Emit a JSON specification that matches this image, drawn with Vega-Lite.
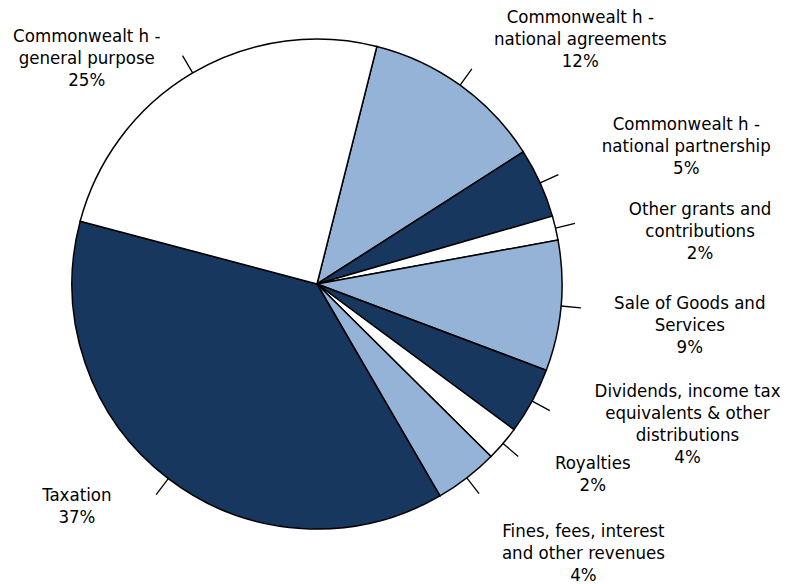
{
  "$schema": "https://vega.github.io/schema/vega-lite/v6.json",
  "width": 634,
  "height": 568,
  "autosize": {"type": "none"},
  "padding": {"left": 0, "top": 0, "right": 164, "bottom": 16},
  "background": "white",
  "config": {"view": {"stroke": null}, "text": {"font": "DejaVu Sans Condensed, DejaVu Sans", "fontSize": 18.5, "lineHeight": 22, "lineBreak": "\n", "align": "center", "baseline": "middle", "color": "black"}},
  "data": {
    "values": [
      {"idx": 1, "source": "Commonwealth - national agreements", "value": 12.0, "label": "Commonwealt h  -\nnational  agreements\n12%"},
      {"idx": 2, "source": "Commonwealth - national partnership", "value": 4.6, "label": "Commonwealt h  -\nnational partnership\n5%"},
      {"idx": 3, "source": "Other grants and contributions", "value": 1.6, "label": "Other grants and\ncontributions\n2%"},
      {"idx": 4, "source": "Sale of Goods and Services", "value": 8.6, "label": "Sale of Goods and\nServices\n9%"},
      {"idx": 5, "source": "Dividends, income tax equivalents & other distributions", "value": 4.4, "label": "Dividends, income tax\nequivalents & other\ndistributions\n4%"},
      {"idx": 6, "source": "Royalties", "value": 2.3, "label": "Royalties\n2%"},
      {"idx": 7, "source": "Fines, fees, interest and other revenues", "value": 4.2, "label": "Fines, fees, interest\nand other revenues\n4%"},
      {"idx": 8, "source": "Taxation", "value": 37.5, "label": "Taxation\n37%"},
      {"idx": 9, "source": "Commonwealth - general purpose", "value": 24.8, "label": "Commonwealt h  -\ngeneral  purpose\n25%"}
    ]
  },
  "encoding": {
    "theta": {"field": "value", "type": "quantitative", "stack": true, "scale": {"range": [0.247, 6.530]}},
    "order": {"field": "idx", "type": "quantitative"}
  },
  "layer": [
    {
      "mark": {"type": "arc", "radius": 245, "stroke": "black", "strokeWidth": 1.5},
      "encoding": {
        "color": {
          "field": "source", "type": "nominal", "legend": null,
          "scale": {
            "domain": ["Commonwealth - national agreements", "Commonwealth - national partnership", "Other grants and contributions", "Sale of Goods and Services", "Dividends, income tax equivalents & other distributions", "Royalties", "Fines, fees, interest and other revenues", "Taxation", "Commonwealth - general purpose"],
            "range": ["#95B3D7", "#17375E", "#FFFFFF", "#95B3D7", "#17375E", "#FFFFFF", "#95B3D7", "#17375E", "#FFFFFF"]
          }
        }
      }
    },
    {
      "mark": {"type": "arc", "radius": 265, "radius2": 245, "padAngle": 3.14, "filled": false, "color": "black", "strokeWidth": 1.3},
      "encoding": {}
    },
    {
      "mark": {"type": "text", "radius": 300, "dx": 88, "dy": -24},
      "encoding": {"text": {"condition": {"test": "datum.idx === 1", "field": "label"}, "value": ""}}
    },
    {
      "mark": {"type": "text", "radius": 300, "dx": 96, "dy": -36},
      "encoding": {"text": {"condition": {"test": "datum.idx === 2", "field": "label"}, "value": ""}}
    },
    {
      "mark": {"type": "text", "radius": 300, "dx": 91, "dy": -6},
      "encoding": {"text": {"condition": {"test": "datum.idx === 3", "field": "label"}, "value": ""}}
    },
    {
      "mark": {"type": "text", "radius": 300, "dx": 74, "dy": -8},
      "encoding": {"text": {"condition": {"test": "datum.idx === 4", "field": "label"}, "value": ""}}
    },
    {
      "mark": {"type": "text", "radius": 300, "dx": 107, "dy": -36},
      "encoding": {"text": {"condition": {"test": "datum.idx === 5", "field": "label"}, "value": ""}}
    },
    {
      "mark": {"type": "text", "radius": 300, "dx": 48, "dy": -16},
      "encoding": {"text": {"condition": {"test": "datum.idx === 6", "field": "label"}, "value": ""}}
    },
    {
      "mark": {"type": "text", "radius": 300, "dx": 83, "dy": 10},
      "encoding": {"text": {"condition": {"test": "datum.idx === 7", "field": "label"}, "value": ""}}
    },
    {
      "mark": {"type": "text", "radius": 300, "dx": -58, "dy": -27},
      "encoding": {"text": {"condition": {"test": "datum.idx === 8", "field": "label"}, "value": ""}}
    },
    {
      "mark": {"type": "text", "radius": 300, "dx": -78, "dy": 10},
      "encoding": {"text": {"condition": {"test": "datum.idx === 9", "field": "label"}, "value": ""}}
    }
  ]
}
